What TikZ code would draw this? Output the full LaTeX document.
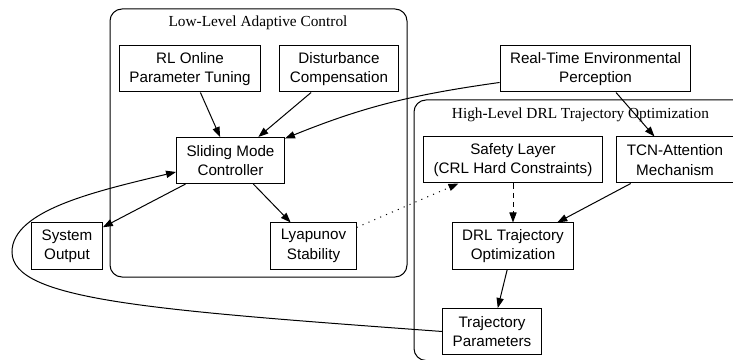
\documentclass[tikz,border=0pt]{standalone}
\usepackage{fontspec}
\setmainfont{Liberation Serif}
\setsansfont{Liberation Sans}
\usetikzlibrary{arrows.meta}
\begin{document}
\begin{tikzpicture}[
    x=0.75pt, y=-0.75pt,
    block/.style={rectangle, draw, line width=0.75pt, minimum height=34.5pt, inner xsep=7.5pt, align=center, font=\sffamily\fontsize{11.4pt}{14.5pt}\selectfont},
    cluster/.style={draw, line width=0.75pt, rounded corners=9pt},
    title/.style={font=\rmfamily\fontsize{11.5pt}{14pt}\selectfont},
    arrow/.style={-{Triangle[length=7.5pt, width=5.4pt]}, line width=0.75pt},
    dotarrow/.style={arrow, dash pattern=on 0.8pt off 4pt},
    dasharrow/.style={arrow, dash pattern=on 4pt off 3pt},
]
\useasboundingbox (0,0) rectangle (733,360);
\clip (0,0) rectangle (733,360);
% clusters
\draw[cluster] (110,9) rectangle (407,277);
\node[title] (lowtitle) at (258,23) {Low-Level Adaptive Control};
\draw[cluster] (414,100) rectangle (760,360.5);
\node[title] (hightitle) at (580.5,115) {High-Level DRL Trajectory Optimization};
% low-level nodes
\node[block] (rl) at (190,69) {RL Online\\Parameter Tuning};
\node[block] (dist) at (339,69) {Disturbance\\Compensation};
\node[block] (smc) at (230.5,160.5) {Sliding Mode\\Controller};
\node[block] (out) at (67,246) {System\\Output};
\node[block] (lyap) at (313.5,246) {Lyapunov\\Stability};
% perception and high-level nodes
\node[block] (env) at (595.5,69) {Real-Time Environmental\\Perception};
\node[block] (safe) at (513,160) {Safety Layer\\(CRL Hard Constraints)};
\node[block] (tcn) at (675,160) {TCN-Attention\\Mechanism};
\node[block] (drl) at (513,246) {DRL Trajectory\\Optimization};
\node[block] (traj) at (492,331.5) {Trajectory\\Parameters};
% edges
\draw[arrow] (rl) -- (smc);
\draw[arrow] (dist) -- (smc);
\draw[arrow] (env) to[out=188, in=22] (smc);
\draw[arrow] (env) -- (tcn);
\draw[arrow] (smc) -- (out);
\draw[arrow] (smc) -- (lyap);
\draw[dotarrow] (lyap) -- (safe);
\draw[dasharrow] (safe) -- (drl);
\draw[arrow] (tcn) -- (drl);
\draw[arrow] (drl) -- (traj);
\draw[arrow] (traj.west) .. controls (150,310) and (12,300) .. (12,252)
    .. controls (12,210) and (97,191) .. ([yshift=-8.6pt]smc.west);
\end{tikzpicture}
\end{document}
